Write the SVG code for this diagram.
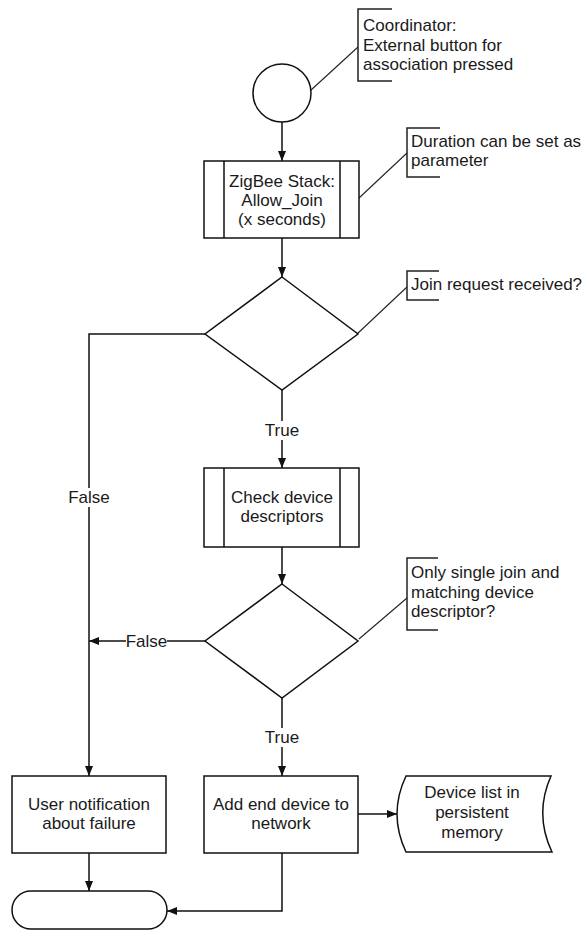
<svg xmlns="http://www.w3.org/2000/svg" width="584" height="931" viewBox="0 0 584 931">
<defs>
<marker id="arr" markerUnits="userSpaceOnUse" markerWidth="11" markerHeight="9" refX="10" refY="4" orient="auto">
<path d="M0,0 L10,4 L0,8 Z" fill="#111"/>
</marker>
<style>
.s{fill:#fff;stroke:#111;stroke-width:1.5}
.c{fill:none;stroke:#111;stroke-width:1.5}
.a{fill:none;stroke:#222;stroke-width:1.1}
.t{font-family:"Liberation Sans",Arial,sans-serif;font-size:17px;fill:#1a1a1a}
.m{text-anchor:middle}
.bg{fill:#fff;stroke:none}
</style>
</defs>
<rect width="584" height="931" fill="#fff"/>

<g id="connectors">
<path class="c" d="M282 122 V161" marker-end="url(#arr)"/>
<path class="c" d="M282 238 V277" marker-end="url(#arr)"/>
<path class="c" d="M282 390 V468" marker-end="url(#arr)"/>
<path class="c" d="M205 334 H89 V776" marker-end="url(#arr)"/>
<path class="c" d="M282 547 V584" marker-end="url(#arr)"/>
<path class="c" d="M205 641 H89" marker-end="url(#arr)"/>
<path class="c" d="M282 698 V776" marker-end="url(#arr)"/>
<path class="c" d="M358 814 H397" marker-end="url(#arr)"/>
<path class="c" d="M89 853 V891" marker-end="url(#arr)"/>
<path class="c" d="M282 853 V911 H167" marker-end="url(#arr)"/>
<path class="a" d="M310.5 90.5 L358 47"/>
<path class="a" d="M359 198 L407 153"/>
<path class="a" d="M357 334 L407 287"/>
<path class="a" d="M359 639 L407 598"/>
<rect class="bg" x="264" y="421" width="36" height="19"/>
<text class="t m" x="282" y="436">True</text>
<rect class="bg" x="71" y="488" width="38" height="19"/>
<text class="t m" x="89" y="503">False</text>
<rect class="bg" x="126" y="632" width="41" height="19"/>
<text class="t m" x="146.5" y="647">False</text>
<rect class="bg" x="264" y="728" width="36" height="19"/>
<text class="t m" x="282" y="743">True</text>
</g>

<g id="start">
<circle class="s" cx="282" cy="93" r="29"/>
</g>

<g id="note-coordinator">
<path class="a" d="M392 9 H358 V81 H392" style="stroke-width:1.5"/>
<text class="t" x="363" y="31">Coordinator:</text>
<text class="t" x="363" y="51">External button for</text>
<text class="t" x="363" y="70">association pressed</text>
</g>

<g id="allow-join">
<rect class="s" x="204" y="161" width="155" height="77"/>
<path class="c" d="M224 161 V238 M340 161 V238"/>
<text class="t m" x="282" y="187">ZigBee Stack:</text>
<text class="t m" x="282" y="206">Allow_Join</text>
<text class="t m" x="282" y="225">(x seconds)</text>
</g>

<g id="note-duration">
<path class="a" d="M440 128 H407 V177 H440" style="stroke-width:1.5"/>
<text class="t" x="411" y="147">Duration can be set as</text>
<text class="t" x="411" y="166">parameter</text>
</g>

<g id="decision-join">
<path class="s" d="M282 277 L358 334 L282 390 L205 334 Z"/>
</g>

<g id="note-join">
<path class="a" d="M439 271 H407 V300 H439" style="stroke-width:1.5"/>
<text class="t" x="411" y="290">Join request received?</text>
</g>

<g id="check-descriptors">
<rect class="s" x="204" y="468" width="155" height="79"/>
<path class="c" d="M224 468 V547 M340 468 V547"/>
<text class="t m" x="282" y="503">Check device</text>
<text class="t m" x="282" y="522">descriptors</text>
</g>

<g id="decision-single">
<path class="s" d="M282 584 L358 641 L282 698 L205 641 Z"/>
</g>

<g id="note-single">
<path class="a" d="M438 558 H407 V630 H438" style="stroke-width:1.5"/>
<text class="t" x="411" y="578">Only single join and</text>
<text class="t" x="411" y="598">matching device</text>
<text class="t" x="411" y="617">descriptor?</text>
</g>

<g id="user-notification">
<rect class="s" x="12" y="776" width="154" height="77"/>
<text class="t m" x="89" y="810">User notification</text>
<text class="t m" x="89" y="829">about failure</text>
</g>

<g id="add-device">
<rect class="s" x="204" y="776" width="154" height="77"/>
<text class="t m" x="281" y="810">Add end device to</text>
<text class="t m" x="281" y="829">network</text>
</g>

<g id="device-list">
<path class="s" d="M406 776 L551 776 Q534 814 552 852 L406 852 Q388 814 406 776 Z"/>
<text class="t m" x="472" y="798">Device list in</text>
<text class="t m" x="472" y="818">persistent</text>
<text class="t m" x="472" y="838">memory</text>
</g>

<g id="end">
<rect class="s" x="12" y="891" width="155" height="38" rx="19" ry="19"/>
</g>
</svg>
